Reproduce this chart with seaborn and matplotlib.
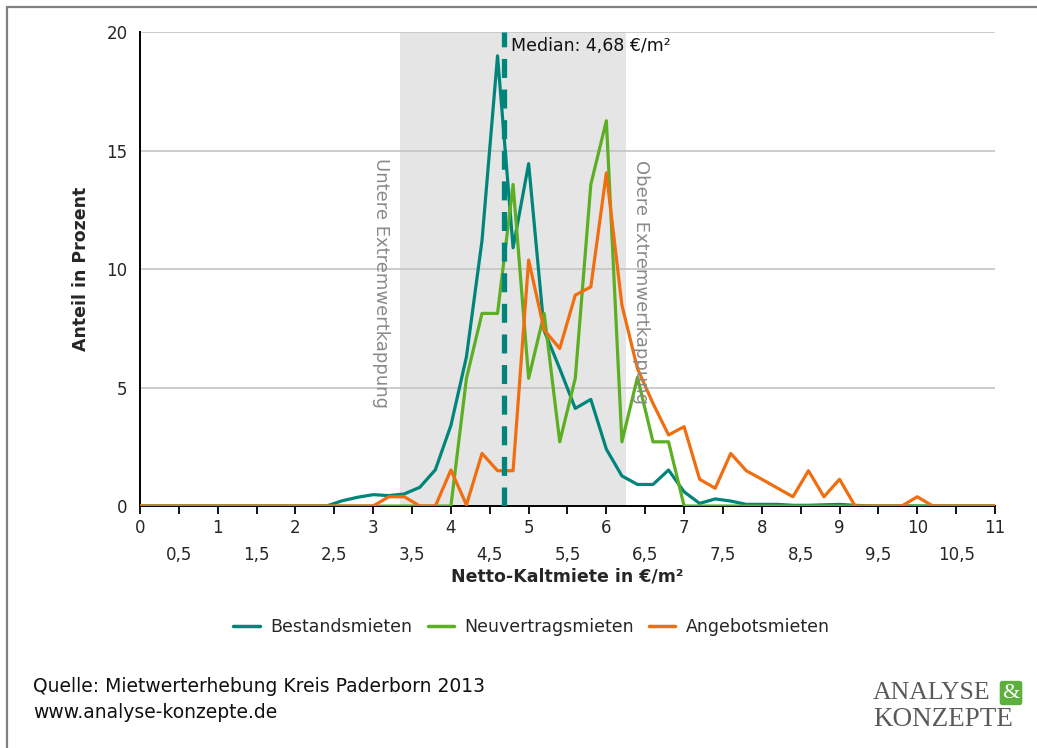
import numpy as np
import pandas as pd
import matplotlib
matplotlib.use("Agg")
import matplotlib.pyplot as plt
import seaborn as sns
from matplotlib.lines import Line2D
from matplotlib.ticker import MultipleLocator, FuncFormatter

# rent classes (EUR/m2), 0.2 steps
miete = np.round(np.arange(0, 11.01, 0.2), 1)

# share in percent per class
bestand = [0, 0, 0, 0, 0, 0, 0, 0, 0, 0, 0, 0, 0,
           0.22, 0.37, 0.48, 0.44, 0.51, 0.79, 1.53, 3.4, 6.3, 11.2, 19.0,
           10.9, 14.45, 7.4, 5.8, 4.12, 4.5, 2.4, 1.27, 0.91, 0.91, 1.52,
           0.6, 0.11, 0.3, 0.21, 0.07, 0.07, 0.07, 0.03, 0.03, 0.05, 0.07,
           0.03, 0, 0, 0, 0, 0, 0, 0, 0, 0]
neu = [0] * 21 + [5.39, 8.13, 8.13, 13.57, 5.39, 8.13, 2.71, 5.39, 13.57,
                  16.26, 2.71, 5.43, 2.71, 2.71] + [0] * 21
angebot = [0] * 16 + [0.39, 0.39, 0, 0, 1.52, 0.05, 2.22, 1.49, 1.49, 10.38,
                      7.43, 6.65, 8.9, 9.25, 14.06, 8.48, 5.8, 4.33, 3.0, 3.35,
                      1.13, 0.75, 2.22, 1.49, 1.13, 0.76, 0.39, 1.49, 0.39,
                      1.13, 0, 0, 0, 0, 0.39, 0, 0, 0, 0, 0]

serien = ["Bestandsmieten", "Neuvertragsmieten", "Angebotsmieten"]
farben = ["#00857a", "#5cae22", "#f06e10"]
median = 4.68
kappung_unten = 3.35
kappung_oben = 6.25

df = pd.concat([
    pd.DataFrame({"miete": miete, "anteil": vals, "art": name})
    for name, vals in zip(serien, [bestand, neu, angebot])
])

sns.set_theme(style="white")
plt.rcParams["font.family"] = ["DejaVu Sans"]

fig = plt.figure(figsize=(10.37, 7.48), dpi=100)
ax = fig.add_axes([0.135, 0.3235, 0.8245, 0.6335])

ax.axvspan(kappung_unten, kappung_oben, color="#e5e5e5", zorder=0, lw=0)
for y in [5, 10, 15, 20]:
    ax.axhline(y, color="#c4c4c4", lw=1.2, zorder=1)

sns.lineplot(data=df, x="miete", y="anteil", hue="art", hue_order=serien,
             palette=farben, linewidth=2.3, ax=ax, zorder=3)

ax.axvline(median, color="#00857a", lw=3.8, ls=(0, (3.6, 2.2)), zorder=4)
ax.text(median + 0.09, 19.4, "Median: 4,68 €/m²", fontsize=12.5, va="center",
        ha="left", color="#111111")
ax.text(3.1, 14.7, "Untere Extremwertkappung", rotation=270, fontsize=13,
        color="#8a8a8a", ha="center", va="top")
ax.text(6.44, 14.6, "Obere Extremwertkappung", rotation=270, fontsize=13,
        color="#8a8a8a", ha="center", va="top")

ax.set_xlim(0, 11)
ax.set_ylim(0, 20)
ax.set_yticks([0, 5, 10, 15, 20])
ax.xaxis.set_major_locator(MultipleLocator(1))
ax.xaxis.set_minor_locator(MultipleLocator(0.5))
ax.xaxis.set_major_formatter(FuncFormatter(lambda v, p: f"{v:g}"))
ax.xaxis.set_minor_formatter(FuncFormatter(
    lambda v, p: "" if abs(v - round(v)) < 1e-6 else f"{v:g}".replace(".", ",")))
ax.tick_params(axis="x", which="both", direction="out", length=6, width=1.3,
               color="black", bottom=True, labelsize=12)
ax.tick_params(axis="x", which="major", pad=3)
ax.tick_params(axis="x", which="minor", pad=23)
ax.tick_params(axis="y", length=0, pad=9, labelsize=12)

for s in ["top", "right"]:
    ax.spines[s].set_visible(False)
for s in ["left", "bottom"]:
    ax.spines[s].set_color("black")
    ax.spines[s].set_linewidth(1.4)

ax.set_xlabel("Netto-Kaltmiete in €/m²", fontsize=12.5, fontweight="bold",
              labelpad=2)
ax.set_ylabel("Anteil in Prozent", fontsize=12.5, fontweight="bold",
              labelpad=12)

sns.move_legend(ax, "center", bbox_to_anchor=(0.458, -0.255), ncol=3,
                frameon=False, title=None, fontsize=12.5, handlelength=1.5,
                handletextpad=0.6, columnspacing=0.9)
for h in ax.get_legend().get_lines():
    h.set_linewidth(2.5)

fig.text(33 / 1037, 1 - 687 / 748, "Quelle: Mietwerterhebung Kreis Paderborn 2013",
         fontsize=13.5, va="center", ha="left", color="#111111")
fig.text(33 / 1037, 1 - 712 / 748, "www.analyse-konzepte.de",
         fontsize=13.5, va="center", ha="left", color="#111111")

# logo
fig.text(873 / 1037, 1 - 699 / 748, "ANALYSE", fontsize=18.5,
         family="Liberation Serif", color="#5a5a5a", va="baseline")
fig.text(873 / 1037, 1 - 726 / 748, "KONZEPTE", fontsize=19.5,
         family="Liberation Serif", color="#5a5a5a", va="baseline")
fig.text(1011 / 1037, 1 - 693 / 748, "&", fontsize=16, family="Liberation Serif",
         color="white", ha="center", va="center",
         bbox=dict(boxstyle="round,pad=0.12", fc="#5cb03c", ec="none"))

# frame
fig.add_artist(Line2D([7 / 1037, 1], [1 - 7 / 748] * 2, transform=fig.transFigure,
                      color="#808080", lw=1.6))
fig.add_artist(Line2D([7 / 1037] * 2, [0, 1 - 7 / 748], transform=fig.transFigure,
                      color="#808080", lw=1.6))

fig.savefig("out.png", dpi=100)
